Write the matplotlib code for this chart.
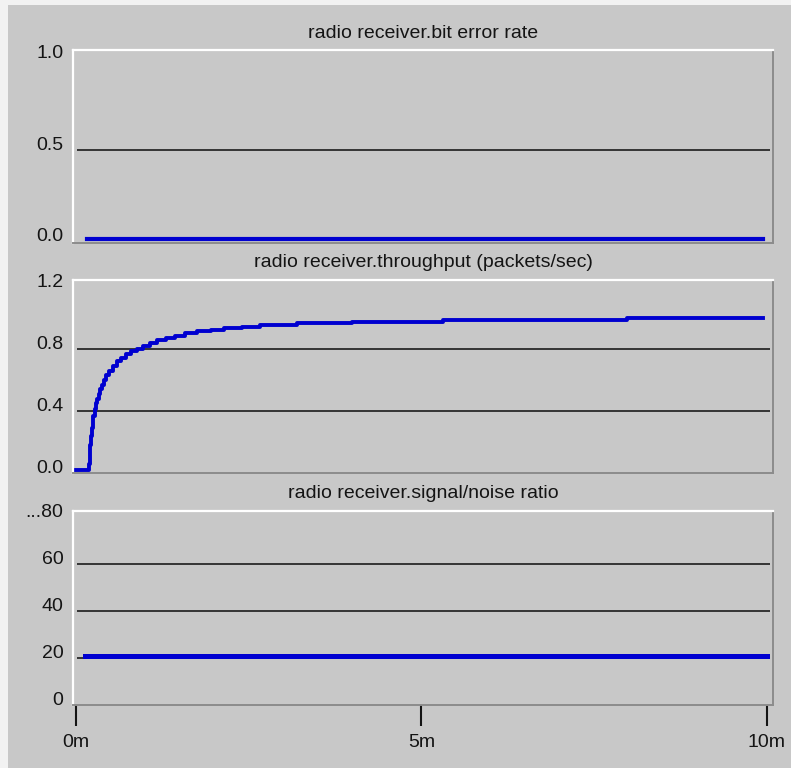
import matplotlib.pyplot as plt
from matplotlib.patches import Rectangle

# radio receiver statistics over simulation time (minutes)
ber_time = [0.16, 9.94]
ber_value = [0.01, 0.01]

thr_time = [0.0, 0.19, 0.20, 0.21, 0.22, 0.23, 0.24, 0.25, 0.27, 0.29, 0.31,
            0.33, 0.35, 0.38, 0.41, 0.44, 0.48, 0.53, 0.59, 0.65, 0.72, 0.80,
            0.88, 0.97, 1.07, 1.18, 1.30, 1.43, 1.58, 1.75, 1.95, 2.15, 2.40,
            2.67, 3.20, 4.00, 5.32, 7.98, 9.94]
thr_value = [0.02, 0.06, 0.12, 0.18, 0.24, 0.29, 0.33, 0.37, 0.41, 0.45, 0.48,
             0.51, 0.54, 0.57, 0.60, 0.63, 0.66, 0.69, 0.72, 0.745, 0.765, 0.785,
             0.80, 0.82, 0.84, 0.855, 0.87, 0.885, 0.90, 0.915, 0.925, 0.935, 0.945,
             0.955, 0.966, 0.976, 0.987, 1.0, 1.0]

snr_time = [0.13, 10.0]
snr_value = [21.0, 21.0]

titles = ['radio receiver.bit error rate',
          'radio receiver.throughput (packets/sec)',
          'radio receiver.signal/noise ratio']
yticks = [[0.0, 0.5, 1.0], [0.0, 0.4, 0.8, 1.2], [0, 20, 40, 60, 80]]
ytick_labels = [['0.0', '0.5', '1.0'], ['0.0', '0.4', '0.8', '1.2'],
                ['0', '20', '40', '60', '...80']]
grid_levels = [[0.5], [0.4, 0.8], [20, 40, 60]]
ylims = [(-0.011, 1.044), (0.0, 1.245), (0.0, 82.6)]
xticks = [0, 5, 10]
xtick_labels = ['0m', '5m', '10m']

W, H = 791, 768
BG = '#c8c8c8'
BLUE = '#0000d0'
INK = '#141414'

plt.rcParams['font.family'] = ['Liberation Sans', 'DejaVu Sans']

fig = plt.figure(figsize=(W / 100, H / 100), dpi=100, facecolor='#f2f2f2')
# grey window body, thin light strip on top/left
body = Rectangle((8 / W, 0), 1, 1 - 5 / H, transform=fig.transFigure,
                 facecolor=BG, edgecolor='none', zorder=-10)
fig.add_artist(body)

# axes boxes in pixels: (top, bottom)
boxes = [(50, 243), (280, 473), (511, 705)]
left, right = 73, 773

axes = []
for (top, bottom) in boxes:
    ax = fig.add_axes([left / W, 1 - bottom / H, (right - left) / W, (bottom - top) / H])
    ax.set_facecolor(BG)
    axes.append(ax)

series = [(ber_time, ber_value, 3.0, 'default'),
          (thr_time, thr_value, 2.8, 'steps-post'),
          (snr_time, snr_value, 3.6, 'default')]

for i, ax in enumerate(axes):
    top, bottom = boxes[i]
    h = bottom - top
    ax.set_xlim(-0.043, 10.09)
    ax.set_ylim(*ylims[i])

    ax.hlines(grid_levels[i], 0.015, 10.04, color='#1c1c1c', lw=1.2, zorder=1)

    t, v, lw, ds = series[i]
    ax.plot(t, v, color=BLUE, lw=lw, drawstyle=ds, zorder=2)

    ax.set_yticks(yticks[i])
    ax.set_yticklabels(ytick_labels[i], fontsize=14, color=INK)
    ax.tick_params(axis='y', length=0, pad=7)
    for lab in ax.get_yticklabels():
        lab.set_va('baseline')

    for side in ['top', 'left']:
        ax.spines[side].set_color('white')
        ax.spines[side].set_linewidth(1.6)
    for side in ['bottom', 'right']:
        ax.spines[side].set_color('#8c8c8c')
        ax.spines[side].set_linewidth(1.4)

    ax.text(0.5, 1 + 17 / h, titles[i], transform=ax.transAxes,
            ha='center', va='center', fontsize=14, color=INK)

    if i < 2:
        ax.set_xticks([])
    else:
        ax.set_xticks(xticks)
        ax.set_xticklabels(xtick_labels, fontsize=14, color=INK)
        ax.tick_params(axis='x', length=15, width=1.5, color=INK, pad=6)

fig.savefig('out.png', dpi=100, facecolor=fig.get_facecolor())
